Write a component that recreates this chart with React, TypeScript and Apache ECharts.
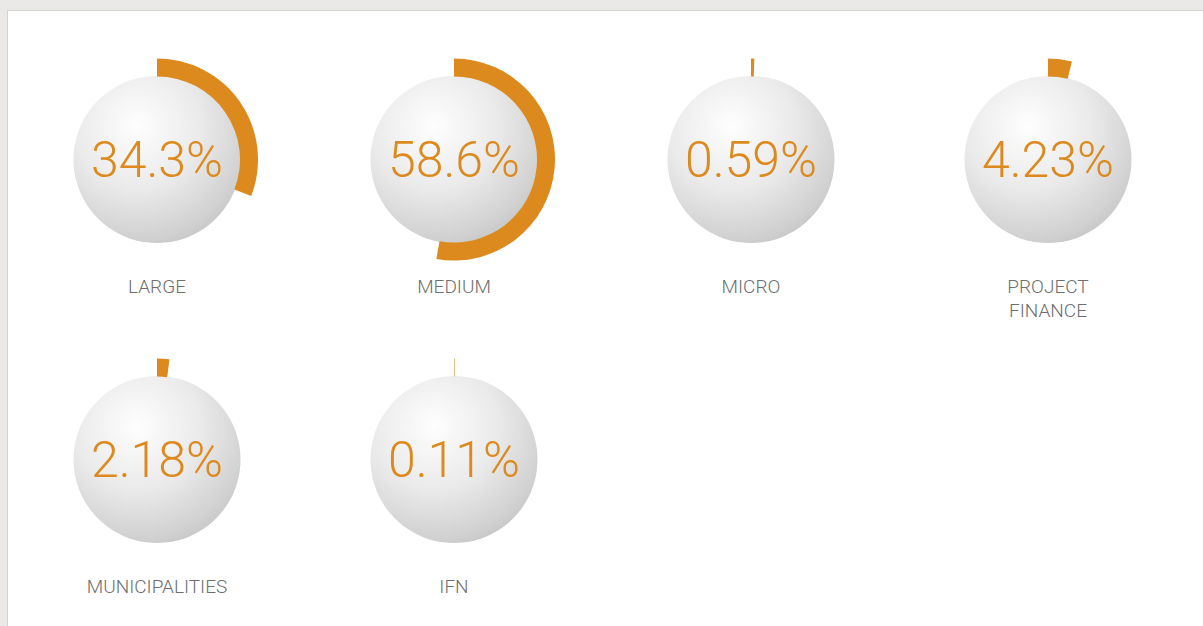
import React, { useEffect, useRef } from "react";
import * as echarts from "echarts";

const categories = ["LARGE", "MEDIUM", "MICRO", "PROJECT\nFINANCE", "MUNICIPALITIES", "IFN"];
const shares = [34.3, 58.6, 0.59, 4.23, 2.18, 0.11];
const gaugeMax = 111;

const ORANGE = "#DC8A1E";

export default function App() {
  const ref = useRef<HTMLDivElement>(null);
  useEffect(() => {
    if (!ref.current) return;
    const chart = echarts.init(ref.current, undefined, { renderer: "svg" });
    const series: any[] = [];
    categories.forEach((name, i) => {
      const col = i % 4;
      const row = Math.floor(i / 4);
      const cx = 157 + col * 297;
      const cy = 159.5 + row * 300;
      series.push({
        type: "pie",
        silent: true,
        z: 1,
        center: [cx, cy],
        radius: [0, 83.5],
        label: { show: false },
        labelLine: { show: false },
        itemStyle: {
          color: {
            type: "radial",
            x: 0.38,
            y: 0.3,
            r: 0.85,
            colorStops: [
              { offset: 0, color: "#fefefe" },
              { offset: 0.45, color: "#eaeaea" },
              { offset: 0.8, color: "#d0d0d0" },
              { offset: 1, color: "#bababa" },
            ],
          },
        },
        data: [{ value: 1, name: name }],
      });
      series.push({
        type: "gauge",
        z: 3,
        center: [cx, cy],
        radius: 101,
        startAngle: 90,
        endAngle: -270,
        min: 0,
        max: gaugeMax,
        pointer: { show: false },
        anchor: { show: false },
        axisLine: { show: false, lineStyle: { width: 18 } },
        progress: { show: true, width: 18, roundCap: false, itemStyle: { color: ORANGE } },
        axisTick: { show: false },
        splitLine: { show: false },
        axisLabel: { show: false },
        title: {
          show: true,
          offsetCenter: [0, name.includes("\n") ? 139 : 127],
          fontSize: 19,
          lineHeight: 24,
          color: "#6e6e6e",
          fontFamily: "Roboto",
          fontWeight: 300,
        },
        detail: {
          show: true,
          offsetCenter: [0, 0],
          formatter: "{value}%",
          fontSize: 50,
          color: ORANGE,
          fontFamily: "Roboto",
          fontWeight: 300,
        },
        data: [{ value: shares[i], name: name }],
      });
    });
    chart.setOption({ animation: false, series });
    return () => chart.dispose();
  }, []);
  return (
    <div style={{ position: "fixed", left: 0, top: 0, width: 1203, height: 626, background: "#ebe9e7", overflow: "hidden" }}>
      <div
        style={{
          position: "absolute",
          left: 7,
          top: 10,
          right: -2,
          bottom: -2,
          background: "#ffffff",
          border: "1px solid #d6d4d1",
        }}
      />
      <div ref={ref} style={{ position: "absolute", left: 0, top: 0, width: 1203, height: 626 }} />
    </div>
  );
}
